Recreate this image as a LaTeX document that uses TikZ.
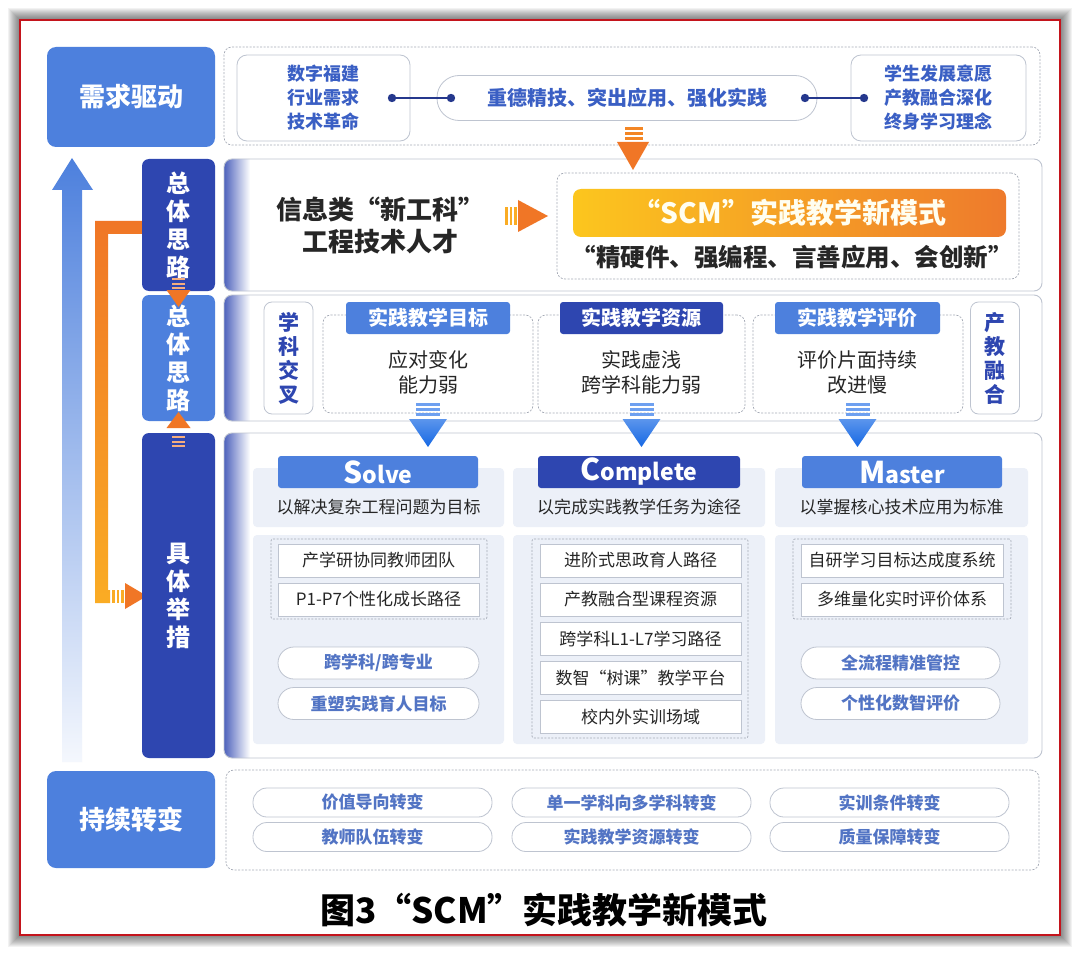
\documentclass[tikz,border=0pt]{standalone}
\usepackage{fontspec}
\setmainfont{Noto Sans CJK SC}
\definecolor{mblue}{RGB}{77,128,221}
\definecolor{navy}{RGB}{46,70,176}
\definecolor{txtblue}{RGB}{58,95,196}
\definecolor{pilltxt}{RGB}{82,116,196}
\definecolor{bordergray}{RGB}{190,196,208}
\definecolor{dashgray}{RGB}{165,170,182}
\definecolor{lightbg}{RGB}{236,240,248}
\definecolor{darktxt}{RGB}{38,38,38}
\definecolor{orange1}{RGB}{240,118,38}
\definecolor{amber}{RGB}{250,172,36}
\definecolor{bannerY}{RGB}{252,198,30}
\definecolor{bannerO}{RGB}{238,122,44}
\definecolor{arrowblue}{RGB}{22,104,228}
\definecolor{stripeblue}{RGB}{110,160,240}
\definecolor{framered}{RGB}{196,20,28}
\begin{document}
\begin{tikzpicture}[x=1pt,y=-1pt]
\tikzset{
 base/.style={inner sep=0pt, outer sep=0pt, align=center},
 bigblue/.style={base, fill=mblue, rounded corners=9pt, text=white, font=\bfseries\fontsize{26}{30}\selectfont},
 vnavy/.style={base, fill=navy, rounded corners=7pt, text=white, font=\bfseries\fontsize{24}{28}\selectfont, minimum width=73pt},
 vblue/.style={vnavy, fill=mblue},
 panel/.style={draw=bordergray, line width=0.9pt, rounded corners=8pt},
 dbox/.style={base, draw=dashgray, dash pattern=on 2pt off 1.5pt, line width=0.7pt, rounded corners=8pt},
 srcbox/.style={base, draw=bordergray, line width=0.8pt, rounded corners=10pt, fill=white, text=txtblue, font=\bfseries\fontsize{18}{24}\selectfont, minimum height=86pt},
 pill/.style={base, draw=bordergray, line width=0.8pt, rounded corners=16pt, fill=white, text=pilltxt, font=\bfseries\fontsize{17}{20}\selectfont},
 hdr/.style={base, rounded corners=3pt, text=white, font=\bfseries\fontsize{20}{24}\selectfont, minimum height=32pt},
 item/.style={base, draw=bordergray, line width=0.8pt, fill=white, text=darktxt, font=\fontsize{17}{20}\selectfont, minimum width=201pt, minimum height=33pt},
 bodytxt/.style={base, text=darktxt, font=\fontsize{20}{25}\selectfont},
 vsmall/.style={base, draw=bordergray, line width=0.8pt, rounded corners=8pt, fill=white, text=navy, font=\bfseries\fontsize{21}{24}\selectfont, minimum width=49pt, minimum height=112pt},
 sub/.style={base, text=darktxt, font=\fontsize{17}{20}\selectfont},
 captxt/.style={base, text=black, font=\bfseries\fontsize{35}{38}\selectfont},
 dotline/.style={draw=navy!80!black, line width=1.4pt},
 bigpill/.style={pill, minimum width=239pt, minimum height=29pt, rounded corners=14pt},
}
\useasboundingbox (0,0) rectangle (1080,955);
% frame shadow
\foreach \i in {1,...,12} {
  \fill[black, opacity=0.05] (20-\i,20-\i) rectangle (1060+\i,935+\i);
}
\fill[white] (20,20) rectangle (1060,935);
\draw[framered, line width=1.6pt] (20,20) rectangle (1060,935);

% ---------- left big blue arrow
\shade[top color=mblue, bottom color=mblue!6] (62,762) -- (62,190) -- (52,190) -- (72,158) -- (93,190) -- (82,190) -- (82,762) -- cycle;

% ---------- orange L path
\shade[top color=orange1, bottom color=amber] (142,221) -- (95,221) -- (95,603) -- (110,603) -- (110,590) -- (108,590) -- (108,234) -- (142,234) -- cycle;
\foreach \sx in {112,116.5,121} { \fill[amber] (\sx,590) rectangle (\sx+2.5,603); }
\fill[orange1] (125,583) -- (125,609) -- (147,596) -- cycle;

% ---------- row 1
\node[bigblue, minimum width=168pt, minimum height=100pt] (need) at (131,97) {需求驱动};
\node[dbox, minimum width=816pt, minimum height=98pt] (topc) at (632,96) {};
\node[srcbox, minimum width=173pt] (fj) at (323.5,98) {数字福建\\行业需求\\技术革命};
\node[pill, minimum width=380pt, minimum height=45pt, rounded corners=22pt, font=\bfseries\fontsize{20}{24}\selectfont, text=txtblue] (mid) at (627,98) {重德精技、突出应用、强化实践};
\node[srcbox, minimum width=175pt] (stu) at (938.5,98) {学生发展意愿\\产教融合深化\\终身学习理念};
\coordinate (dl1) at ([xshift=-18pt]fj.east);
\coordinate (dl2) at ([xshift=14pt]mid.west);
\coordinate (dr1) at ([xshift=-12pt]mid.east);
\coordinate (dr2) at ([xshift=13pt]stu.west);
\draw[dotline] (dl1) -- (dl2);
\draw[dotline] (dr1) -- (dr2);
\foreach \c in {dl1,dl2,dr1,dr2} { \fill[navy!80!black] (\c) circle (4.2pt); }

% ---------- row 2 panel
\begin{scope}
\clip[rounded corners=8pt] (224,159) rectangle (1042,291);
\shade[left color=navy!85, right color=white] (224,159) rectangle (250,291);
\end{scope}
\draw[panel] (224,159) rectangle (1042,291);
\node[vnavy, minimum height=132pt] (zt1) at (178.5,225) {总\\体\\思\\路};
\node[base, font=\bfseries\fontsize{26}{32}\selectfont, text=darktxt] (xgk) at (380,225) {信息类“新工科”\\工程技术人才};
\node[dbox, minimum width=462pt, minimum height=106pt] (sdash) at (788,226) {};
\node[base, minimum width=433pt, minimum height=48pt, rounded corners=8pt, left color=bannerY, right color=bannerO, text=white!94!yellow, font=\bfseries\fontsize{28}{30}\selectfont] (banner) at (789.5,213) {“SCM”实践教学新模式};
\node[base, font=\bfseries\fontsize{24.5}{27}\selectfont, text=darktxt] (motto) at (792,257) {“精硬件、强编程、言善应用、会创新”};
% striped right arrow
\foreach \sx in {505,509.5,514} { \fill[amber] (\sx,207) rectangle (\sx+2.8,225); }
\fill[orange1] (518,200) -- (518,232) -- (548,216) -- cycle;
% top orange down arrow
\foreach \sy in {127,132,137} { \fill[orange1!70!amber] (625,\sy) rectangle (643,\sy+3); }
\fill[orange1] (617,142) -- (649,142) -- (633,170) -- cycle;

% ---------- row 3 panel
\begin{scope}
\clip[rounded corners=8pt] (224,295) rectangle (1042,421);
\shade[left color=navy!85, right color=white] (224,295) rectangle (250,421);
\end{scope}
\draw[panel] (224,295) rectangle (1042,421);
\node[vblue, minimum height=126pt] (zt2) at (178.5,358) {总\\体\\思\\路};
\node[vsmall] (xk) at (288.5,358) {学\\科\\交\\叉};
\node[vsmall] (cj) at (995,358) {产\\教\\融\\合};
\node[dbox, minimum width=210pt, minimum height=98pt] (d1) at (428,364) {};
\node[dbox, minimum width=207pt, minimum height=98pt] (d2) at (641.5,364) {};
\node[dbox, minimum width=210pt, minimum height=98pt] (d3) at (858,364) {};
\node[hdr, fill=mblue, minimum width=164pt] (h1) at (428,318) {实践教学目标};
\node[hdr, fill=navy, minimum width=163pt] (h2) at (641.5,318) {实践教学资源};
\node[hdr, fill=mblue, minimum width=165pt] (h3) at (857.5,318) {实践教学评价};
\node[bodytxt] (t1) at (428,372) {应对变化\\能力弱};
\node[bodytxt] (t2) at (641.5,372) {实践虚浅\\跨学科能力弱};
\node[bodytxt] (t3) at (857.5,372) {评价片面持续\\改进慢};

% small orange arrows between left boxes
\foreach \sy in {278,282.5,287} { \fill[orange1!60!white] (172,\sy) rectangle (185,\sy+2); }
\fill[orange1] (166.5,290) -- (190.5,290) -- (178.5,307) -- cycle;

% ---------- row 4 panel
\begin{scope}
\clip[rounded corners=8pt] (224,433) rectangle (1042,758);
\shade[left color=navy!85, right color=white] (224,433) rectangle (250,758);
\end{scope}
\draw[panel] (224,433) rectangle (1042,758);
\node[vnavy, minimum height=325pt] (jt) at (178.5,595.5) {具\\体\\举\\措};
\fill[orange1] (166.5,428) -- (190.5,428) -- (178.5,412) -- cycle;
\foreach \sy in {436,440.5,445} { \fill[orange1!60!white] (172,\sy) rectangle (185,\sy+2); }

% column backgrounds
\foreach \xa/\xb in {253/504,513/765,775/1028} {
  \fill[lightbg, rounded corners=4pt] (\xa,468) rectangle (\xb,527);
  \fill[lightbg, rounded corners=4pt] (\xa,535) rectangle (\xb,744);
}
% blue arrows
\foreach \cx in {428,641.5,857.5} {
  \foreach \sy in {403,408,413} { \fill[stripeblue] ({\cx-12},\sy) rectangle ({\cx+12},\sy+3); }
  \shade[top color=arrowblue!70, bottom color=arrowblue] ({\cx-19},419) -- ({\cx+19},419) -- (\cx,447) -- cycle;
}
\node[hdr, fill=mblue, minimum width=200pt, font=\bfseries\fontsize{23}{24}\selectfont] (solve) at (378,472) {{\fontsize{30}{30}\selectfont S}olve};
\node[hdr, fill=navy, minimum width=202pt, font=\bfseries\fontsize{23}{24}\selectfont] (complete) at (639,472) {{\fontsize{30}{30}\selectfont C}omplete};
\node[hdr, fill=mblue, minimum width=200pt, font=\bfseries\fontsize{23}{24}\selectfont] (master) at (902,472) {{\fontsize{30}{30}\selectfont M}aster};
\node[sub] (s1) at (378.5,507) {以解决复杂工程问题为目标};
\node[sub] (s2) at (639,507) {以完成实践教学任务为途径};
\node[sub] (s3) at (901.5,507) {以掌握核心技术应用为标准};

\node[dbox, minimum width=216pt, minimum height=80pt, rounded corners=2pt] (dd1) at (379,579) {};
\node[item] (a1) at (378.5,560.5) {产学研协同教师团队};
\node[item] (a2) at (378.5,599.5) {P1-P7个性化成长路径};
\node[pill, minimum width=201pt, minimum height=32pt] (pa1) at (378.5,663) {跨学科/跨专业};
\node[pill, minimum width=201pt, minimum height=32pt] (pa2) at (378.5,703.5) {重塑实践育人目标};

\node[dbox, minimum width=216pt, minimum height=199pt, rounded corners=2pt] (dd2) at (640,638.5) {};
\node[item] (b1) at (640.5,560.5) {进阶式思政育人路径};
\node[item] (b2) at (640.5,599.5) {产教融合型课程资源};
\node[item] (b3) at (640.5,638.5) {跨学科L1-L7学习路径};
\node[item] (b4) at (640.5,678) {数智“树课”教学平台};
\node[item] (b5) at (640.5,717) {校内外实训场域};

\node[dbox, minimum width=218pt, minimum height=80pt, rounded corners=2pt] (dd3) at (902,579) {};
\node[item, minimum width=202pt] (c1) at (902,560.5) {自研学习目标达成度系统};
\node[item, minimum width=202pt] (c2) at (902,599.5) {多维量化实时评价体系};
\node[pill, minimum width=199pt, minimum height=32pt] (pc1) at (900.5,663) {全流程精准管控};
\node[pill, minimum width=199pt, minimum height=32pt] (pc2) at (900.5,703.5) {个性化数智评价};

% ---------- row 5
\node[bigblue, minimum width=168pt, minimum height=97pt] (cx) at (131,819.5) {持续转变};
\node[dbox, minimum width=813pt, minimum height=100pt] (bd) at (632.5,820) {};
\node[bigpill] (e1) at (372.5,802.5) {价值导向转变};
\node[bigpill] (e2) at (631.5,802.5) {单一学科向多学科转变};
\node[bigpill] (e3) at (889.5,802.5) {实训条件转变};
\node[bigpill] (e4) at (372.5,837) {教师队伍转变};
\node[bigpill] (e5) at (631.5,837) {实践教学资源转变};
\node[bigpill] (e6) at (889.5,837) {质量保障转变};

% caption
\node[captxt] (caption) at (544,910) {图3“SCM”实践教学新模式};
\end{tikzpicture}
\end{document}
